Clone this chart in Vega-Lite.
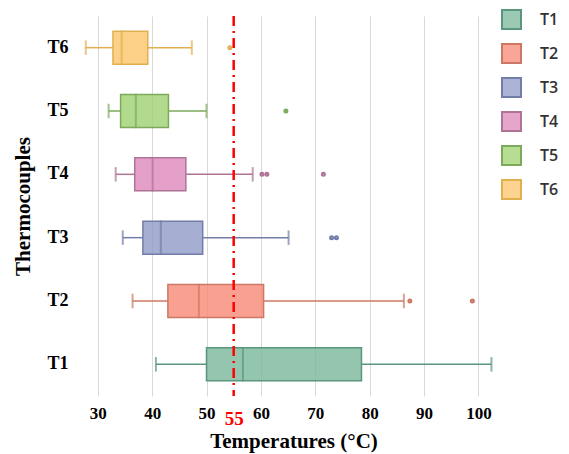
{
  "$schema": "https://vega.github.io/schema/vega-lite/v6.json",
  "width": 435,
  "height": 380,
  "autosize": "none",
  "padding": {"left": 76, "top": 16, "right": 58, "bottom": 58},
  "background": "white",
  "config": {"view": {"stroke": null}, "font": "Liberation Serif"},
  "datasets": {
    "stats": [
      {"T": "T1", "lower": 40.7, "q1": 50.0, "median": 56.7, "q3": 78.5, "upper": 102.4},
      {"T": "T2", "lower": 36.4, "q1": 42.9, "median": 48.6, "q3": 60.5, "upper": 86.3},
      {"T": "T3", "lower": 34.6, "q1": 38.3, "median": 41.6, "q3": 49.3, "upper": 65.1},
      {"T": "T4", "lower": 33.3, "q1": 36.8, "median": 40.1, "q3": 46.2, "upper": 58.5},
      {"T": "T5", "lower": 32.0, "q1": 34.2, "median": 37.0, "q3": 43.0, "upper": 50.0},
      {"T": "T6", "lower": 27.8, "q1": 32.8, "median": 34.4, "q3": 39.2, "upper": 47.3}
    ],
    "outliers": [
      {"T": "T2", "value": 87.4},
      {"T": "T2", "value": 98.9},
      {"T": "T3", "value": 73.0},
      {"T": "T3", "value": 73.9},
      {"T": "T4", "value": 60.2},
      {"T": "T4", "value": 61.1},
      {"T": "T4", "value": 71.5},
      {"T": "T5", "value": 64.6},
      {"T": "T6", "value": 54.3}
    ],
    "threshold": [{"limit": 55}]
  },
  "layer": [
    {
      "data": {"name": "stats"},
      "mark": {"type": "rule", "strokeWidth": 1.5},
      "encoding": {
        "y": {
          "field": "T", "type": "nominal",
          "sort": ["T6", "T5", "T4", "T3", "T2", "T1"],
          "scale": {"paddingInner": 0, "paddingOuter": 0},
          "axis": {
            "title": "Thermocouples",
            "titleFont": "Liberation Serif", "titleFontSize": 21, "titleFontWeight": "bold",
            "titleColor": "#000000", "titlePadding": 13,
            "labelFont": "Liberation Serif", "labelFontSize": 18, "labelFontWeight": "bold",
            "labelColor": "#000000", "labelPadding": 8,
            "ticks": false, "domain": false, "grid": false
          }
        },
        "x": {
          "field": "lower", "type": "quantitative",
          "scale": {"domain": [26, 106], "nice": false, "zero": false},
          "axis": {
            "title": "Temperatures (°C)",
            "values": [30, 40, 50, 55, 60, 70, 80, 90, 100],
            "titleFont": "Liberation Serif", "titleFontSize": 21, "titleFontWeight": "bold",
            "titleColor": "#000000", "titleY": 34, "titleBaseline": "top",
            "labelFont": "Liberation Serif", "labelFontWeight": "bold",
            "labelFontSize": {"condition": {"test": "datum.value == 55", "value": 19}, "value": 17},
            "labelColor": {"condition": {"test": "datum.value == 55", "value": "#ff0000"}, "value": "#000000"},
            "labelBaseline": {"condition": {"test": "datum.value == 55", "value": "middle"}, "value": "alphabetic"},
            "labelPadding": 22,
            "ticks": false, "domain": false,
            "grid": true, "gridColor": "#d9d9d9", "gridWidth": 1,
            "gridOpacity": {"condition": {"test": "datum.value == 55", "value": 0}, "value": 1}
          }
        },
        "x2": {"field": "q1"},
        "stroke": {
          "field": "T", "type": "nominal", "title": null,
          "scale": {"domain": ["T1", "T2", "T3", "T4", "T5", "T6"], "range": ["#5a967d", "#cd7864", "#737daa", "#af7396", "#7daa5a", "#e1af50"]}
        }
      }
    },
    {
      "data": {"name": "stats"},
      "mark": {"type": "rule", "strokeWidth": 1.5},
      "encoding": {
        "y": {"field": "T", "type": "nominal", "sort": ["T6", "T5", "T4", "T3", "T2", "T1"]},
        "x": {"field": "q3", "type": "quantitative"},
        "x2": {"field": "upper"},
        "stroke": {"field": "T", "type": "nominal", "title": null}
      }
    },
    {
      "data": {"name": "stats"},
      "mark": {"type": "bar", "size": 33, "fillOpacity": 0.8, "strokeWidth": 1.5},
      "encoding": {
        "y": {"field": "T", "type": "nominal", "sort": ["T6", "T5", "T4", "T3", "T2", "T1"]},
        "x": {"field": "q1", "type": "quantitative"},
        "x2": {"field": "q3"},
        "fill": {
          "field": "T", "type": "nominal", "title": null,
          "scale": {"domain": ["T1", "T2", "T3", "T4", "T5", "T6"], "range": ["#79b79b", "#f78875", "#909ac7", "#dd88ba", "#9fd16f", "#fcc469"]},
          "legend": {
            "orient": "none", "legendX": 425, "legendY": -7,
            "symbolType": "square", "symbolSize": 361, "symbolStrokeWidth": 2,
            "labelFont": "Open Sans", "labelFontSize": 16, "labelFontWeight": 600, "labelColor": "#333333",
            "labelOffset": 18, "rowPadding": 7, "padding": 0,
            "encode": {
              "symbols": {
                "update": {
                  "stroke": {"scale": "stroke", "field": "value"},
                  "fillOpacity": {"value": 0.75}
                }
              }
            }
          }
        },
        "stroke": {"field": "T", "type": "nominal", "title": null}
      }
    },
    {
      "data": {"name": "stats"},
      "mark": {"type": "tick", "size": 33, "thickness": 0.5, "filled": false, "strokeWidth": 1.5},
      "encoding": {
        "y": {"field": "T", "type": "nominal", "sort": ["T6", "T5", "T4", "T3", "T2", "T1"]},
        "x": {"field": "median", "type": "quantitative"},
        "stroke": {"field": "T", "type": "nominal", "title": null}
      }
    },
    {
      "data": {"name": "stats"},
      "mark": {"type": "tick", "size": 13, "thickness": 0.5, "filled": false, "strokeWidth": 1.5},
      "encoding": {
        "y": {"field": "T", "type": "nominal", "sort": ["T6", "T5", "T4", "T3", "T2", "T1"]},
        "x": {"field": "lower", "type": "quantitative"},
        "stroke": {"field": "T", "type": "nominal", "title": null}
      }
    },
    {
      "data": {"name": "stats"},
      "mark": {"type": "tick", "size": 13, "thickness": 0.5, "filled": false, "strokeWidth": 1.5},
      "encoding": {
        "y": {"field": "T", "type": "nominal", "sort": ["T6", "T5", "T4", "T3", "T2", "T1"]},
        "x": {"field": "upper", "type": "quantitative"},
        "stroke": {"field": "T", "type": "nominal", "title": null}
      }
    },
    {
      "data": {"name": "outliers"},
      "mark": {"type": "point", "filled": false, "size": 8, "strokeWidth": 2.2, "opacity": 1},
      "encoding": {
        "y": {"field": "T", "type": "nominal", "sort": ["T6", "T5", "T4", "T3", "T2", "T1"]},
        "x": {"field": "value", "type": "quantitative"},
        "stroke": {"field": "T", "type": "nominal", "title": null}
      }
    },
    {
      "data": {"name": "threshold"},
      "mark": {"type": "rule", "color": "#ff0000", "strokeWidth": 2.5, "strokeDash": [10, 5, 2, 5]},
      "encoding": {
        "x": {"field": "limit", "type": "quantitative"}
      }
    }
  ]
}
